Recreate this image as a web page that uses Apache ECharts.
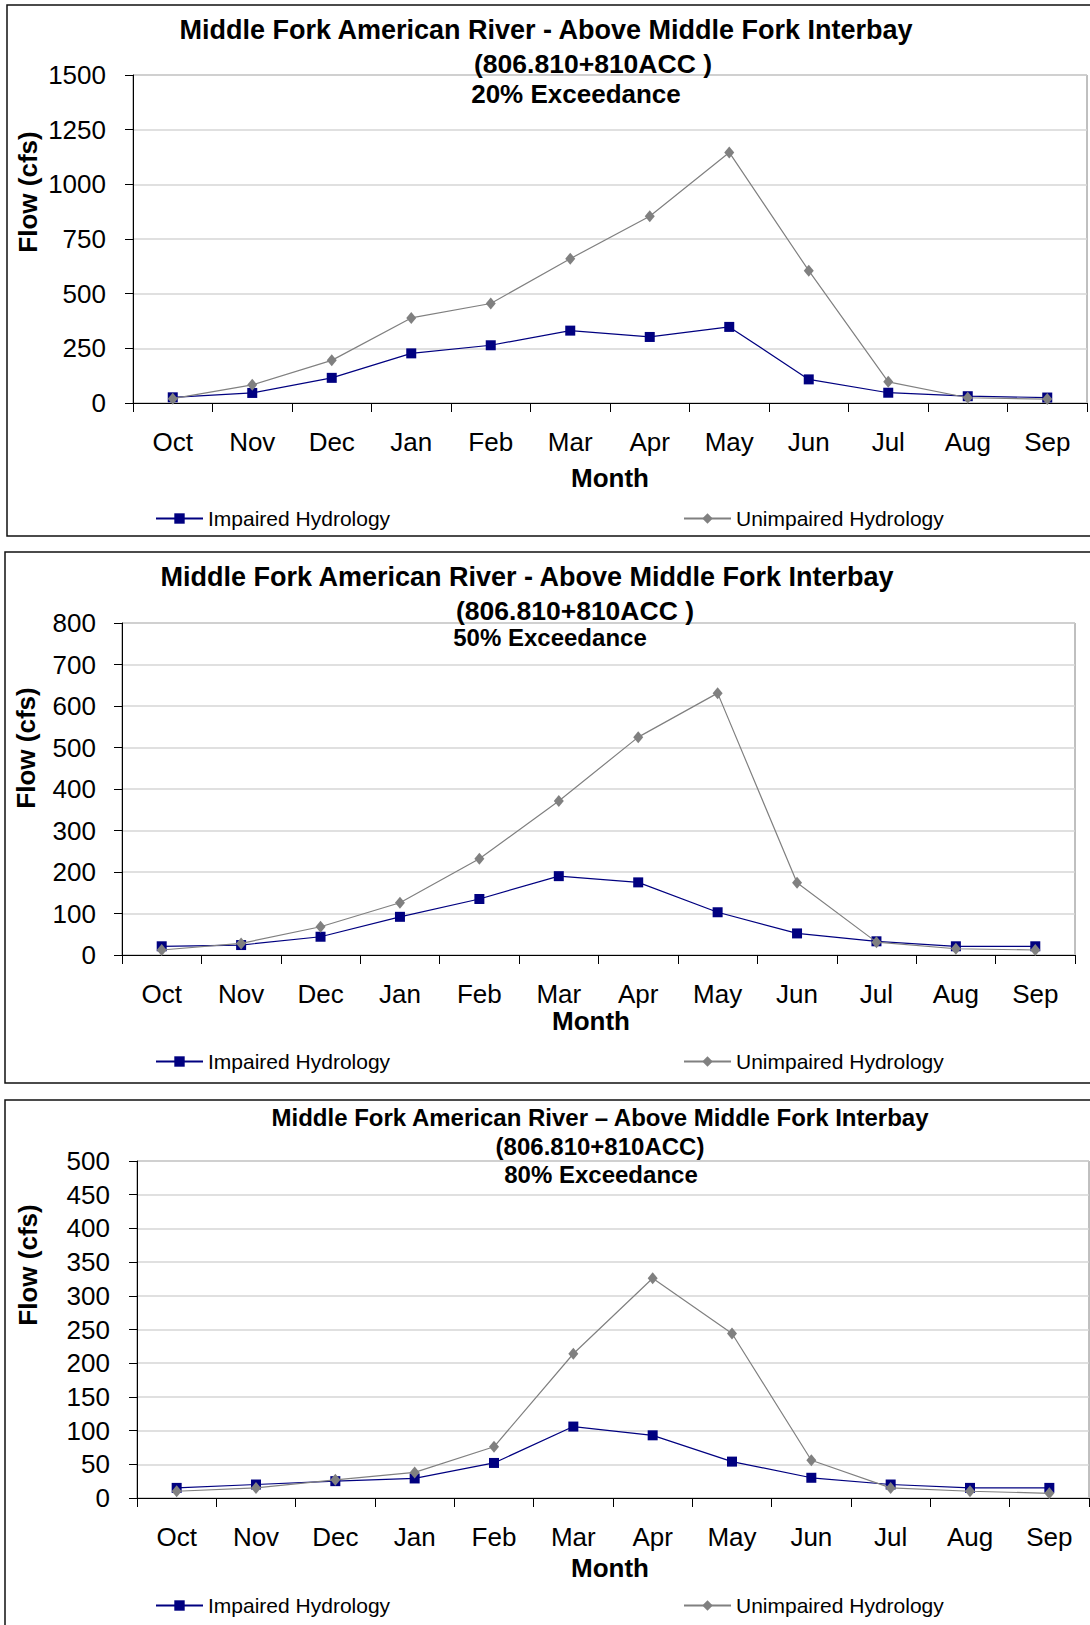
<!DOCTYPE html>
<html>
<head>
<meta charset="utf-8">
<script src="https://cdn.jsdelivr.net/npm/echarts@6/dist/echarts.min.js"></script>
<style>
html,body{margin:0;padding:0;background:#fff;}
#c{width:1090px;height:1625px;}
</style>
</head>
<body>
<div id="c"></div>
<script>
const months = ['Oct','Nov','Dec','Jan','Feb','Mar','Apr','May','Jun','Jul','Aug','Sep'];

const impaired20   = [26, 46, 115, 227, 264, 331, 302, 348, 108, 47, 31, 25];
const unimpaired20 = [20, 83, 195, 389, 455, 660, 854, 1146, 605, 97, 24, 18];

const impaired50   = [21, 24, 44, 92, 135, 190, 175, 103, 52, 33, 21, 21];
const unimpaired50 = [12, 28, 68, 126, 232, 371, 525, 631, 174, 31, 15, 12];

const impaired80   = [15, 20, 25, 29, 52, 106, 93, 54, 30, 20, 15, 15];
const unimpaired80 = [10, 15, 27, 38, 76, 214, 326, 244, 56, 15, 10, 7];

const yMax = [1500, 800, 500];
const yInterval = [250, 100, 50];

const titleLine1 = ['Middle Fork American River - Above Middle Fork Interbay',
                    'Middle Fork American River - Above Middle Fork Interbay',
                    'Middle Fork American River \u2013 Above Middle Fork Interbay'];
const titleLine2 = ['(806.810+810ACC )', '(806.810+810ACC )', '(806.810+810ACC)'];
const titleLine3 = ['20% Exceedance', '50% Exceedance', '80% Exceedance'];
const seriesNames = ['Impaired Hydrology', 'Unimpaired Hydrology'];
const xName = 'Month';
const yName = 'Flow (cfs)';

const FF = '"Liberation Sans", Arial, Helvetica, sans-serif';

const layout = [
  {grid:{left:133, top:75, width:954, height:328}, box:{x:7,y:5,h:531}, nameGap:62, namePad:[0,0,0,0], ymarg:27,
   t:[[546,30,27],[593,64,26.5],[576,94,26]], flow:[28,192], legendTop:503},
  {grid:{left:122, top:623, width:953, height:332}, box:{x:5,y:552,h:531}, nameGap:52, namePad:[0,15,0,0], ymarg:26,
   t:[[527,577,27],[575,611,26.5],[550,637,24]], flow:[26,748], legendTop:1046},
  {grid:{left:137, top:1161, width:952, height:337}, box:{x:5,y:1100,h:600}, nameGap:57, namePad:[0,6,0,0], ymarg:27,
   t:[[600,1117,24],[600,1146,24],[601,1174,24]], flow:[28,1265], legendTop:1590}
];

const dataSets = [[impaired20, unimpaired20],[impaired50, unimpaired50],[impaired80, unimpaired80]];

const grids = [], xAxes = [], yAxes = [], series = [], graphics = [], legends = [];

layout.forEach((L, i) => {
  grids.push(Object.assign({show:true, borderColor:'#808080', borderWidth:1, backgroundColor:'rgba(0,0,0,0)'}, L.grid));
  xAxes.push({
    type:'category', gridIndex:i, data:months, boundaryGap:true,
    axisLine:{show:true, lineStyle:{color:'#000', width:1}},
    axisTick:{show:true, length:9, lineStyle:{color:'#000', width:1}},
    axisLabel:{fontSize:26, color:'#000', fontFamily:FF, margin:26, interval:0},
    name:xName, nameLocation:'middle', nameGap:L.nameGap,
    nameTextStyle:{fontSize:26, fontWeight:'bold', color:'#000', fontFamily:FF, padding:L.namePad},
    splitLine:{show:false}
  });
  yAxes.push({
    type:'value', gridIndex:i, min:0, max:yMax[i], interval:yInterval[i],
    axisLine:{show:true, lineStyle:{color:'#000', width:1}},
    axisTick:{show:true, length:8, lineStyle:{color:'#000', width:1}},
    axisLabel:{fontSize:26, color:'#000', fontFamily:FF, margin:L.ymarg, formatter:(v)=>String(v)},
    splitLine:{show:true, lineStyle:{color:'#d6d6d6', width:1.5}}
  });
  series.push({
    name:seriesNames[0], type:'line', xAxisIndex:i, yAxisIndex:i, data:dataSets[i][0],
    symbol:'rect', symbolSize:10, showAllSymbol:true,
    lineStyle:{color:'#000080', width:1.2}, itemStyle:{color:'#000080'},
    emphasis:{disabled:true}, z:3
  });
  series.push({
    name:seriesNames[1], type:'line', xAxisIndex:i, yAxisIndex:i, data:dataSets[i][1],
    symbol:'diamond', symbolSize:[10,12], showAllSymbol:true,
    lineStyle:{color:'#808080', width:1.2}, itemStyle:{color:'#808080'},
    emphasis:{disabled:true}, z:4
  });
  legends.push({
    data:[seriesNames[0]], left:150, top:L.legendTop, itemWidth:47, itemHeight:13, selectedMode:false,
    textStyle:{fontSize:21, color:'#000', fontFamily:FF}
  });
  legends.push({
    data:[seriesNames[1]], left:678, top:L.legendTop, itemWidth:47, itemHeight:13, selectedMode:false,
    textStyle:{fontSize:21, color:'#000', fontFamily:FF}
  });
  graphics.push({
    type:'rect', z:-10, silent:true,
    shape:{x:L.box.x, y:L.box.y, width:1200, height:L.box.h},
    style:{fill:'none', stroke:'#111', lineWidth:1.5}
  });
  const lines = [titleLine1[i], titleLine2[i], titleLine3[i]];
  lines.forEach((txt, k) => {
    graphics.push({
      type:'text', z:100, silent:true, x:L.t[k][0], y:L.t[k][1],
      style:{text:txt, fill:'#000', font:'bold ' + L.t[k][2] + 'px ' + FF,
             fontSize:L.t[k][2], fontWeight:'bold', fontFamily:FF,
             align:'center', verticalAlign:'middle', textAlign:'center', textVerticalAlign:'middle'}
    });
  });
  graphics.push({
    type:'text', z:100, silent:true, x:L.flow[0], y:L.flow[1], rotation:Math.PI/2,
    style:{text:yName, fill:'#000', font:'bold 26px ' + FF, fontSize:26, fontWeight:'bold', fontFamily:FF,
           align:'center', verticalAlign:'middle', textAlign:'center', textVerticalAlign:'middle'}
  });
});

const chart = echarts.init(document.getElementById('c'), null, {renderer:'svg', width:1090, height:1625});
chart.setOption({
  animation:false,
  backgroundColor:'#fff',
  grid:grids, xAxis:xAxes, yAxis:yAxes, series:series, legend:legends,
  graphic:graphics
});
</script>
</body>
</html>
